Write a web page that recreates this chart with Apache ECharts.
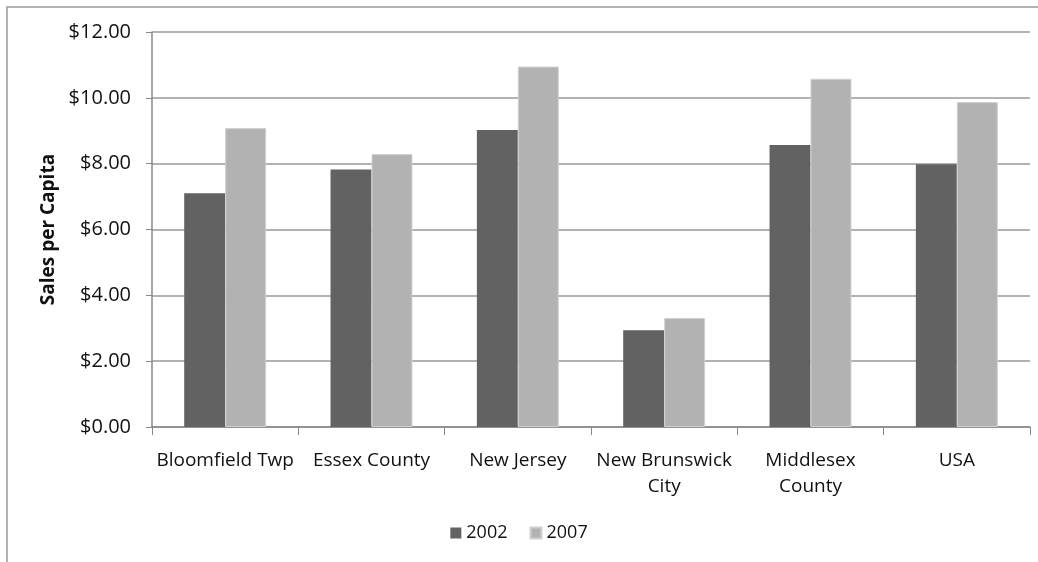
<!DOCTYPE html>
<html>
<head>
<meta charset="utf-8">
<script src="https://cdn.jsdelivr.net/npm/echarts@6/dist/echarts.min.js"></script>
<style>
  html, body { margin: 0; padding: 0; background: #fff; }
  #main { width: 1038px; height: 562px; }
</style>
</head>
<body>
<div id="main"></div>
<script>
// 数据
var categories = ['Bloomfield Twp', 'Essex County', 'New Jersey', 'New Brunswick\nCity', 'Middlesex\nCounty', 'USA'];
var sales2002 = [7.10, 7.82, 9.02, 2.94, 8.57, 7.98];
var sales2007 = [9.08, 8.29, 10.95, 3.31, 10.58, 9.87];

var chart = echarts.init(document.getElementById('main'), null, { renderer: 'canvas' });

var font = '"Open Sans", "Noto Sans", sans-serif';

var option = {
  backgroundColor: '#fff',
  animation: false,
  textStyle: { fontFamily: font },
  // 外框
  graphic: [{
    type: 'rect',
    shape: { x: 7, y: 7, width: 1040, height: 560 },
    style: { fill: 'none', stroke: '#9a9a9a', lineWidth: 1.5 }
  }],
  grid: { left: 152, right: 8, top: 32, bottom: 135 },
  legend: {
    bottom: 15,
    left: 'center',
    itemWidth: 11,
    itemHeight: 11,
    itemGap: 22,
    icon: 'rect',
    textStyle: { fontSize: 18, color: '#111', fontFamily: font },
    data: ['2002', '2007']
  },
  xAxis: {
    type: 'category',
    data: categories,
    axisLine: { lineStyle: { color: '#888', width: 1.5 } },
    axisTick: { show: true, length: 8, lineStyle: { color: '#888' } },
    axisLabel: { color: '#111', fontSize: 19, margin: 21, lineHeight: 26, interval: 0, fontFamily: font }
  },
  yAxis: {
    type: 'value',
    min: 0,
    max: 12,
    interval: 2,
    name: 'Sales per Capita',
    nameLocation: 'middle',
    nameRotate: 90,
    nameGap: 94,
    nameTextStyle: { fontSize: 19, fontWeight: 'bold', color: '#111', fontFamily: font },
    axisLine: { show: true, lineStyle: { color: '#888', width: 1.5 } },
    axisTick: { show: true, length: 6, lineStyle: { color: '#888' } },
    axisLabel: {
      color: '#111', fontSize: 20, margin: 21, fontFamily: font,
      formatter: function (v) { return '$' + v.toFixed(2); }
    },
    splitLine: { lineStyle: { color: '#999', width: 1.5 } }
  },
  series: [{
    name: '2002',
    type: 'bar',
    data: sales2002,
    barGap: '0%',
    barCategoryGap: '44%',
    itemStyle: { color: '#626262' }
  }, {
    name: '2007',
    type: 'bar',
    data: sales2007,
    itemStyle: { color: '#b2b2b2', borderColor: '#d0d0d0', borderWidth: 1 }
  }]
};

chart.setOption(option);
</script>
</body>
</html>
